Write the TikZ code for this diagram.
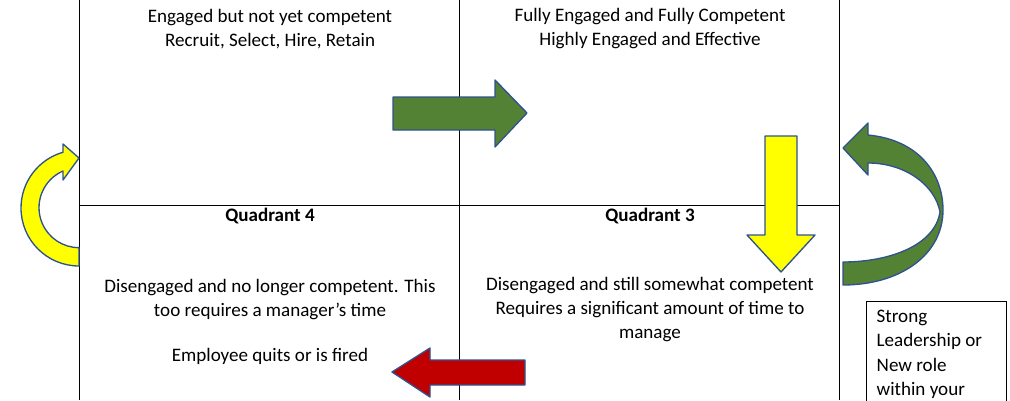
\documentclass[tikz,border=0pt]{standalone}
\usepackage{fontspec}
\setmainfont{Carlito}
\definecolor{arrgreen}{RGB}{84,130,53}
\definecolor{arryellow}{RGB}{255,255,0}
\definecolor{arrred}{RGB}{192,0,0}
\definecolor{arredge}{RGB}{47,82,143}
\begin{document}
\begin{tikzpicture}[x=0.75pt,y=-0.75pt,
    every node/.style={font=\fontsize{14.3}{18}\selectfont},
    quadtext/.style={align=center},
    blockarrow/.style={draw=arredge,line width=1pt,line join=round}]

        \useasboundingbox (0,0) rectangle (1010,400);
        \clip (0,0) rectangle (1010,400);

        % Quadrant grid
        \draw[black] (79,0) -- (79,400);
        \draw[black] (459,0) -- (459,400);
        \draw[black] (839,0) -- (839,400);
        \draw[black] (79,205) -- (839,205);

        % Quadrant texts
        \node[quadtext] (qone) at (270,29) {Engaged but not yet competent\\Recruit, Select, Hire, Retain};
        \node[quadtext] (qtwo) at (650,29) {Fully Engaged and Fully Competent\\Highly Engaged and Effective};
        \node[font=\fontsize{14.3}{18}\selectfont\bfseries] (qfour) at (270,216) {Quadrant 4};
        \node[font=\fontsize{14.3}{18}\selectfont\bfseries] (qthree) at (650,216) {Quadrant 3};
        \node[quadtext] (qfourtext) at (270,322) {Disengaged and no longer competent. This\\too requires a manager’s time\\[16pt]Employee quits or is fired};
        \node[quadtext] (qthreetext) at (650,310) {Disengaged and still somewhat competent\\Requires a significant amount of time to\\manage};

        % Straight arrows
        \fill[arrgreen,blockarrow] (393,97) -- (495,97) -- (495,80) -- (527,113) -- (495,147) -- (495,130) -- (393,130) -- cycle;
        \fill[arryellow,blockarrow] (765,136) -- (797,136) -- (797,235) -- (815,235) -- (781,272) -- (747,235) -- (765,235) -- cycle;
        \fill[arrred,blockarrow] (525,360) -- (430,360) -- (430,348) -- (392,372) -- (430,397) -- (430,385) -- (525,385) -- cycle;

        % Curved arrows
        \fill[arryellow,blockarrow] (79,266) arc[start angle=90,end angle=254,radius=58]
            -- (63,144) -- (79,158) -- (63,180) -- (63,171)
            arc[start angle=246.4,end angle=90,radius=40] -- cycle;
        \fill[arrgreen,blockarrow] (868,135) .. controls (920,140) and (943,175) .. (943,210)
            .. controls (943,255) and (900,285) .. (843,285) -- (843,262)
            .. controls (890,262) and (935,245) .. (940,212)
            .. controls (935,185) and (905,163) .. (868,163)
            -- (868,175) -- (843,148) -- (868,123) -- cycle;

        % Side note
        \draw[black] (866,301) rectangle (1006,420);
        \node[anchor=north west,align=left,font=\fontsize{14.3}{18.4}\selectfont] (note) at (872,305) {Strong\\Leadership or\\New role\\within your};
    \end{tikzpicture}
\end{document}
